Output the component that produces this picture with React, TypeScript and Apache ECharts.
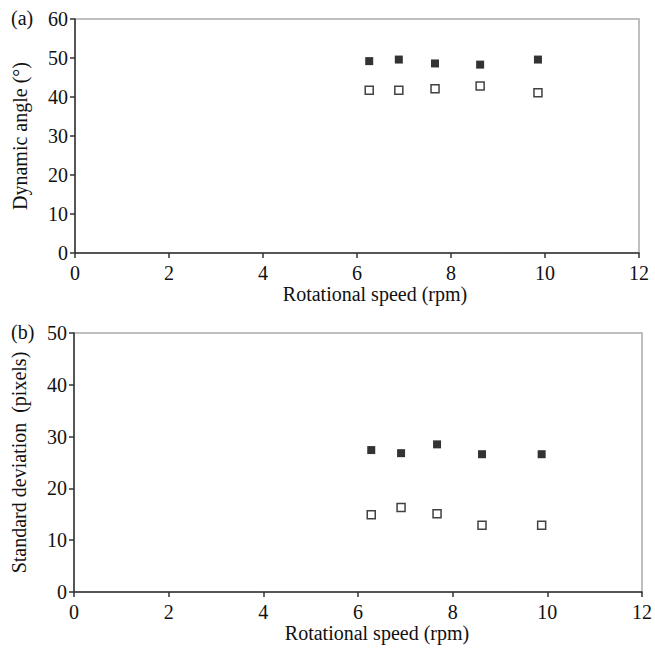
import React, { useEffect, useRef } from "react";
import * as echarts from "echarts";

const speedA = [6.26, 6.89, 7.66, 8.62, 9.85];
const angleFilled = [49.2, 49.6, 48.6, 48.3, 49.6];
const angleOpen = [41.7, 41.7, 42.1, 42.8, 41.1];

const speedB = [6.28, 6.91, 7.67, 8.62, 9.88];
const sdFilled = [27.4, 26.8, 28.5, 26.6, 26.6];
const sdOpen = [14.9, 16.3, 15.1, 12.9, 12.9];

const xTitle = "Rotational speed (rpm)";
const yTitleA = "Dynamic angle (°)";
const yTitleB = "Standard deviation  (pixels)";

const FONT = "'Liberation Serif', 'Times New Roman', serif";
const TXT = "#111";
const AXIS = "#333";
const FS = 20;

const pairs = (xs: number[], ys: number[]) => xs.map((x, i) => [x, ys[i]]);

export default function App() {
  const ref = useRef<HTMLDivElement>(null);
  useEffect(() => {
    if (!ref.current) return;
    const chart = echarts.init(ref.current, undefined, { renderer: "svg" });
    const xAxisBase = (gridIndex: number, padLeft: number, gap: number) => ({
      type: "value",
      gridIndex,
      min: 0,
      max: 12,
      interval: 2,
      name: xTitle,
      nameLocation: "middle",
      nameGap: gap,
      nameTextStyle: { fontFamily: FONT, fontSize: FS, color: TXT, padding: [0, 0, 0, padLeft] },
      axisLine: { show: true, lineStyle: { color: AXIS, width: 1.5 } },
      axisTick: { show: true, length: 5, lineStyle: { color: AXIS, width: 1.5 } },
      axisLabel: { fontFamily: FONT, fontSize: FS, color: TXT, margin: 10 },
      splitLine: { show: false },
    });
    const yAxisBase = (gridIndex: number, max: number, name: string) => ({
      type: "value",
      gridIndex,
      min: 0,
      max,
      interval: 10,
      name,
      nameLocation: "middle",
      nameGap: 45,
      nameTextStyle: { fontFamily: FONT, fontSize: FS, color: TXT },
      axisLine: { show: true, lineStyle: { color: AXIS, width: 1.5 } },
      axisTick: { show: true, length: 5, lineStyle: { color: AXIS, width: 1.5 } },
      axisLabel: { fontFamily: FONT, fontSize: FS, color: TXT, margin: 7 },
      splitLine: { show: false },
    });
    const filled = { symbol: "rect", symbolSize: 8, itemStyle: { color: "#000" } };
    const open = {
      symbol: "rect",
      symbolSize: 8,
      itemStyle: { color: "#fff", borderColor: "#111", borderWidth: 1.5 },
    };
    chart.setOption({
      animation: false,
      backgroundColor: "#fff",
      textStyle: { fontFamily: FONT },
      grid: [
        { left: 75, top: 19, width: 564, height: 234, show: true, borderColor: "#aaa", borderWidth: 1.5 },
        { left: 74, top: 333, width: 570, height: 259, show: true, borderColor: "#aaa", borderWidth: 1.5 },
      ],
      xAxis: [xAxisBase(0, 36, 27), xAxisBase(1, 38, 30)],
      yAxis: [yAxisBase(0, 60, yTitleA), yAxisBase(1, 50, yTitleB)],
      series: [
        { type: "scatter", xAxisIndex: 0, yAxisIndex: 0, data: pairs(speedA, angleFilled), ...filled },
        { type: "scatter", xAxisIndex: 0, yAxisIndex: 0, data: pairs(speedA, angleOpen), ...open },
        { type: "scatter", xAxisIndex: 1, yAxisIndex: 1, data: pairs(speedB, sdFilled), ...filled },
        { type: "scatter", xAxisIndex: 1, yAxisIndex: 1, data: pairs(speedB, sdOpen), ...open },
      ],
      graphic: [
        { type: "text", left: 11, top: 8, style: { text: "(a)", fontFamily: FONT, fontSize: FS, fill: TXT } },
        { type: "text", left: 11, top: 322, style: { text: "(b)", fontFamily: FONT, fontSize: FS, fill: TXT } },
      ],
    });
    return () => chart.dispose();
  }, []);
  return (
    <div
      ref={ref}
      style={{ position: "fixed", left: 0, top: 0, width: 655, height: 650, background: "#fff" }}
    />
  );
}
